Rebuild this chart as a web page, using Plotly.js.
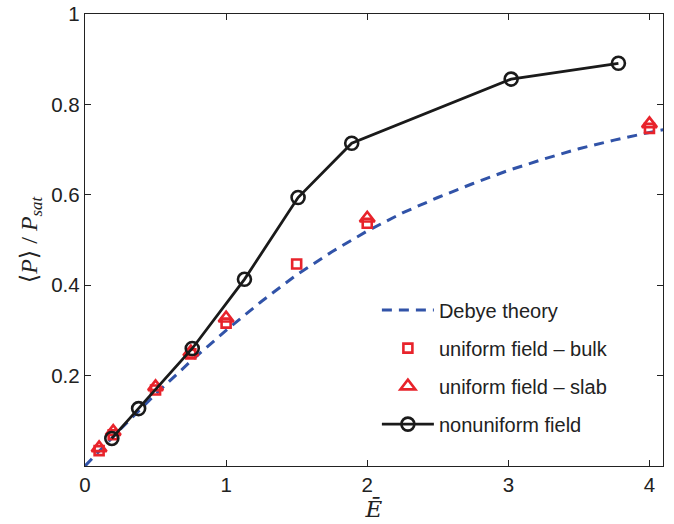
<!DOCTYPE html>
<html>
<head>
<meta charset="utf-8">
<script src="https://cdn.plot.ly/plotly-3.0.1.min.js"></script>
<style>html,body{margin:0;padding:0;background:#fff;}#chart{width:674px;height:524px;}</style>
</head>
<body>
<div id="chart"></div>
<script>
// Debye theory curve
const debyeE = [0, 0.25, 0.5, 0.75, 1, 1.25, 1.5, 1.75, 2, 2.25, 2.5, 2.75, 3, 3.25, 3.5, 3.75, 4, 4.1];
const debyeP = [0, 0.081, 0.159, 0.232, 0.300, 0.364, 0.423, 0.474, 0.520, 0.560, 0.594, 0.625, 0.654, 0.679, 0.702, 0.721, 0.738, 0.744];

// uniform field - bulk
const bulkE = [0.1, 0.2, 0.5, 0.75, 1.0, 1.5, 2.0, 4.0];
const bulkP = [0.034, 0.069, 0.168, 0.248, 0.316, 0.447, 0.537, 0.747];

// uniform field - slab
const slabE = [0.1, 0.2, 0.5, 0.75, 1.0, 2.0, 4.0];
const slabP = [0.040, 0.076, 0.175, 0.252, 0.327, 0.548, 0.757];

// nonuniform field
const nonE = [0.19, 0.38, 0.76, 1.13, 1.51, 1.89, 3.02, 3.78];
const nonP = [0.061, 0.127, 0.260, 0.413, 0.594, 0.714, 0.856, 0.891];

const xTicks = [0, 1, 2, 3, 4];
const yTicks = [0.2, 0.4, 0.6, 0.8, 1];
const yTickText = ['0.2', '0.4', '0.6', '0.8', '1'];

const red = '#e8232b';
const traces = [
  {x: debyeE, y: debyeP, mode: 'lines', name: 'Debye theory', legendgroup: 'a',
   line: {color: '#3153a8', width: 3, dash: '10px,7px'}},
  {x: bulkE, y: bulkP, mode: 'markers', name: 'uniform field \u2013 bulk', legendgroup: 'b',
   marker: {symbol: 'square-open', size: 9, color: red, line: {color: red, width: 2.6}}},
  {x: slabE, y: slabP, mode: 'markers', name: 'uniform field \u2013 slab', legendgroup: 'c',
   marker: {symbol: 'triangle-up-open', size: 13, color: red, line: {color: red, width: 2.6}}},
  {x: nonE, y: nonP, mode: 'lines+markers', name: 'nonuniform field', legendgroup: 'd',
   line: {color: '#1a1a1a', width: 2.8},
   marker: {symbol: 'circle-open', size: 13, color: '#1a1a1a', line: {color: '#1a1a1a', width: 2.6}}}
];

const layout = {
  width: 674, height: 524,
  margin: {l: 85, r: 10.5, t: 14, b: 58},
  paper_bgcolor: '#fff', plot_bgcolor: '#fff',
  font: {family: 'Liberation Sans, Arial, sans-serif', size: 20.5, color: '#222'},
  showlegend: true,
  legend: {x: 0.505, y: 0.388, xanchor: 'left', yanchor: 'top',
    bgcolor: 'rgba(255,255,255,0)', borderwidth: 0, tracegroupgap: 9,
    itemwidth: 52, font: {size: 20, color: '#222'}},
  xaxis: {range: [0, 4.096], tickvals: xTicks, ticks: 'inside', ticklen: 6, tickwidth: 1,
    tickcolor: '#222', showline: true, linecolor: '#222', linewidth: 1.2, mirror: 'ticks',
    showgrid: false, zeroline: false, fixedrange: true,
    title: {text: '<i>\u0112</i>', font: {family: 'DejaVu Serif, Liberation Serif, serif', size: 23, color: '#222'}, standoff: 6}},
  yaxis: {range: [0, 1], tickvals: yTicks, ticktext: yTickText, ticks: 'inside', ticklen: 6, tickwidth: 1,
    tickcolor: '#222', showline: true, linecolor: '#222', linewidth: 1.2, mirror: 'ticks',
    showgrid: false, zeroline: false, fixedrange: true,
    title: {text: '\u27e8<i>P</i>\u27e9 / <i>P</i><sub><i>sat</i></sub>', font: {family: 'Liberation Serif, DejaVu Serif, serif', size: 24, color: '#222'}, standoff: 6}}
};

Plotly.newPlot('chart', traces, layout, {displayModeBar: false, staticPlot: true});
</script>
</body>
</html>
